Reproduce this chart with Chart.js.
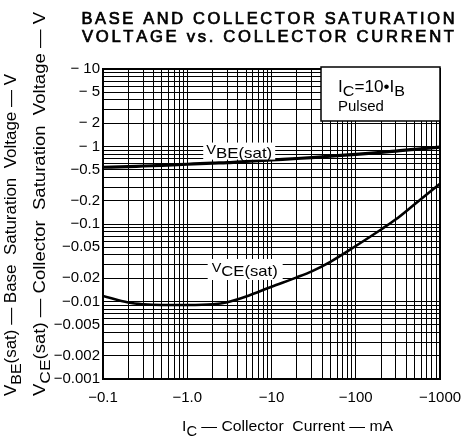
<!DOCTYPE html>
<html>
<head>
<meta charset="utf-8">
<script src="https://cdn.jsdelivr.net/npm/chart.js@4.4.1/dist/chart.umd.min.js"></script>
<style>
  html, body { margin: 0; padding: 0; background: #fff; }
  #wrap { width: 472px; height: 437px; }
</style>
</head>
<body>
<div id="wrap"><canvas id="chart" width="472" height="437"></canvas></div>
<script>
// collector current (mA, shown negative on the sheet)
const currentMA = [0.1, 0.2, 0.3, 0.5, 1, 2, 3, 5, 10, 20, 30, 50, 100, 200, 300, 500, 1000];
// saturation voltages (V, magnitude)
const vbeSat = [0.54, 0.55, 0.56, 0.57, 0.59, 0.61, 0.62, 0.64, 0.67, 0.70, 0.72, 0.75, 0.79, 0.84, 0.87, 0.92, 0.98];
const vceSat = [0.0118, 0.0097, 0.0092, 0.0090, 0.0090, 0.0092, 0.0098, 0.0116, 0.0155, 0.0205, 0.0245, 0.0325, 0.052, 0.085, 0.115, 0.18, 0.33];

const xTickValues = [0.1, 1, 10, 100, 1000];
const xTickLabels = ['−0.1', '−1.0', '−10', '−100', '−1000'];
const yTickValues = [0.001, 0.002, 0.005, 0.01, 0.02, 0.05, 0.1, 0.2, 0.5, 1, 2, 5, 10];
const yTickLabels = ['−0.001', '−0.002', '−0.005', '−0.01', '−0.02', '−0.05', '−0.1', '−0.2', '−0.5', '− 1', '− 2', '− 5', '− 10'];

const FONT = '"Liberation Sans", Arial, sans-serif';

// 1..9 lines in every decade, like the log paper
function logGrid(min, max) {
  const out = [];
  for (let d = min; d < max * 0.999; d *= 10) {
    for (let m = 1; m < 10; m++) out.push({ value: +(d * m).toPrecision(6) });
  }
  out.push({ value: max });
  return out;
}

function labelFor(values, labels, v) {
  const i = values.findIndex(t => Math.abs(t - v) / t < 1e-6);
  return i >= 0 ? labels[i] : '';
}

// text in pieces: parts = [[text, size, dy], ...]
function richWidth(ctx, parts) {
  let w = 0;
  parts.forEach(p => {
    ctx.font = p[1] + 'px ' + FONT;
    w += ctx.measureText(p[0]).width;
  });
  return w;
}
function drawRich(ctx, parts, x, y, targetW) {
  const w = richWidth(ctx, parts);
  const k = targetW ? targetW / w : 1;
  ctx.save();
  ctx.translate(x, y);
  ctx.scale(k, 1);
  let cx = 0;
  parts.forEach(p => {
    ctx.font = p[1] + 'px ' + FONT;
    ctx.fillText(p[0], cx, p[2] || 0);
    cx += ctx.measureText(p[0]).width;
  });
  ctx.restore();
  return w * k;
}

const decorations = {
  id: 'decorations',
  afterDatasetsDraw(chart) {
    const { ctx, chartArea: a, scales: { x, y } } = chart;
    ctx.save();
    ctx.fillStyle = '#000';
    ctx.strokeStyle = '#000';
    ctx.textBaseline = 'alphabetic';
    ctx.textAlign = 'left';

    // frame
    ctx.lineWidth = 2;
    ctx.strokeRect(a.left, a.top, a.right - a.left, a.bottom - a.top);

    // curve labels
    const vbeParts = [['V', 13, -1], ['BE(sat)', 15, 3]];
    let lx = x.getPixelForValue(1.68), ly = y.getPixelForValue(0.86);
    ctx.fillStyle = '#fff';
    ctx.fillRect(lx - 3, ly - 9, 72, 17);
    ctx.fillStyle = '#000';
    drawRich(ctx, vbeParts, lx, ly + 3, 66);

    const vceParts = [['V', 13, -1], ['CE(sat)', 15, 3]];
    lx = x.getPixelForValue(1.95); ly = y.getPixelForValue(0.0255);
    ctx.fillStyle = '#fff';
    ctx.fillRect(lx - 4, ly - 11, 75, 21);
    ctx.fillStyle = '#000';
    drawRich(ctx, vceParts, lx, ly + 3, 66);

    // condition box
    const bx = a.left + 218, by = a.top - 2, bw = a.right - bx, bh = 54;
    ctx.fillStyle = '#fff';
    ctx.fillRect(bx, by, bw, bh);
    ctx.lineWidth = 1.5;
    ctx.strokeRect(bx, by, bw, bh);
    ctx.fillStyle = '#000';
    drawRich(ctx, [['I', 16, 0], ['C', 15, 4], ['=10•I', 16, 0], ['B', 15, 4]], bx + 17, by + 25, 67);
    ctx.font = '15px ' + FONT;
    ctx.fillText('Pulsed', bx + 17, by + 44);
    ctx.restore();
  },
  afterDraw(chart) {
    const { ctx } = chart;
    ctx.save();
    ctx.fillStyle = '#000';
    ctx.strokeStyle = '#000';
    ctx.textBaseline = 'alphabetic';
    ctx.textAlign = 'left';

    // title: wide capitals, spaced out, medium weight
    const drawSpaced = (txt, cx, by, targetW) => {
      ctx.font = '16px ' + FONT;
      const chars = txt.split('');
      const gap = 2.6;
      const nat = chars.reduce((s, c) => s + ctx.measureText(c).width, 0) + gap * (chars.length - 1);
      const k = targetW / nat;
      ctx.save();
      ctx.translate(cx - targetW / 2, by);
      ctx.scale(k, 1);
      ctx.lineWidth = 0.7;
      let px = 0;
      chars.forEach(c => {
        ctx.fillText(c, px, 0);
        ctx.strokeText(c, px, 0);
        px += ctx.measureText(c).width + gap;
      });
      ctx.restore();
    };
    drawSpaced('BASE AND COLLECTOR SATURATION', 268, 24, 373);
    drawSpaced('VOLTAGE vs. COLLECTOR CURRENT', 268, 42, 372);

    // x axis title
    drawRich(ctx, [['I', 15, 0], ['C', 14, 5], [' — Collector  Current — mA', 15, 0]], 182, 431, 211);

    // y axis titles (rotated)
    ctx.save();
    ctx.translate(16, 396);
    ctx.rotate(-Math.PI / 2);
    drawRich(ctx, [['V', 16, 0], ['BE', 15, 5], ['(sat)', 16, 0], [' — Base  Saturation  Voltage — V', 16, 0]], 0, 0, 322);
    ctx.restore();
    ctx.save();
    ctx.translate(45, 396);
    ctx.rotate(-Math.PI / 2);
    drawRich(ctx, [['V', 16, 0], ['CE', 15, 5], ['(sat)', 16, 0], [' — Collector  Saturation  Voltage — V', 16, 0]], 0, 0, 384);
    ctx.restore();
    ctx.restore();
  }
};

new Chart(document.getElementById('chart'), {
  type: 'line',
  data: {
    datasets: [
      {
        label: 'VBE(sat)',
        data: currentMA.map((v, i) => ({ x: v, y: vbeSat[i] })),
        borderColor: '#000',
        borderWidth: 3.2,
        pointRadius: 0,
        tension: 0.4,
        cubicInterpolationMode: 'monotone'
      },
      {
        label: 'VCE(sat)',
        data: currentMA.map((v, i) => ({ x: v, y: vceSat[i] })),
        borderColor: '#000',
        borderWidth: 2.6,
        pointRadius: 0,
        tension: 0.4,
        cubicInterpolationMode: 'monotone'
      }
    ]
  },
  options: {
    responsive: false,
    animation: false,
    devicePixelRatio: 1,
    layout: { padding: { left: 0, top: 69, right: 32, bottom: 0 } },
    plugins: { legend: { display: false }, tooltip: { enabled: false }, title: { display: false } },
    scales: {
      x: {
        type: 'logarithmic',
        min: 0.1,
        max: 1000,
        afterBuildTicks: s => { s.ticks = logGrid(0.1, 1000); },
        afterFit: s => { s.height = 58; },
        grid: { color: '#000', lineWidth: 1, drawTicks: false },
        border: { color: '#000', width: 2 },
        ticks: {
          autoSkip: false,
          maxRotation: 0,
          padding: 10,
          color: '#000',
          font: { family: FONT, size: 15 },
          callback: v => labelFor(xTickValues, xTickLabels, v)
        }
      },
      y: {
        type: 'logarithmic',
        min: 0.001,
        max: 10,
        afterBuildTicks: s => { s.ticks = logGrid(0.001, 10); },
        afterFit: s => { s.width = 103; },
        grid: { color: '#000', lineWidth: 1, drawTicks: false },
        border: { color: '#000', width: 2 },
        ticks: {
          autoSkip: false,
          padding: 3,
          color: '#000',
          font: { family: FONT, size: 15 },
          callback: v => labelFor(yTickValues, yTickLabels, v)
        }
      }
    }
  },
  plugins: [decorations]
});
</script>
</body>
</html>
